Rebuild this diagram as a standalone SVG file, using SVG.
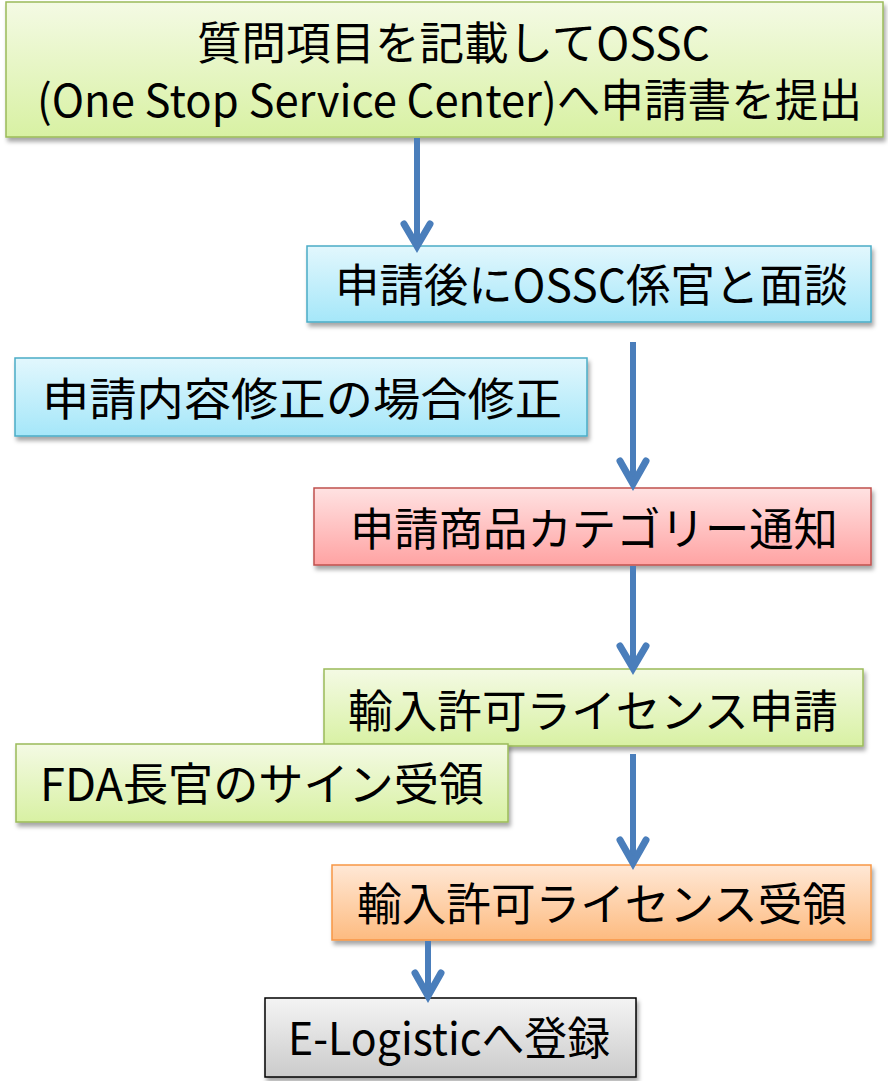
<svg xmlns="http://www.w3.org/2000/svg" width="888" height="1081" viewBox="0 0 888 1081">
  <style>
    .box { stroke-width: 1.5; filter: url(#shadow); }
    .green { fill: url(#gGreen); stroke: #9bbb59; }
    .blue { fill: url(#gBlue); stroke: #4bacc6; }
    .red { fill: url(#gRed); stroke: #c0504d; }
    .orange { fill: url(#gOrange); stroke: #f79646; }
    .gray { fill: url(#gGray); stroke: #000000; }
    .lbl { font-family: "Noto Sans CJK JP", "Noto Sans", sans-serif; font-size: 45px; fill: #000; }
    .shaft { stroke: #4a7ebb; stroke-width: 6; fill: none; }
    .head { stroke: #4a7ebb; stroke-width: 7; fill: none; stroke-linecap: round; stroke-linejoin: miter; }
  </style>
  <defs>
    <filter id="shadow" x="-5%" y="-10%" width="115%" height="130%">
      <feDropShadow dx="2" dy="4" stdDeviation="2" flood-color="#000" flood-opacity="0.35"/>
    </filter>
    <linearGradient id="gGreen" x1="0" y1="0" x2="0" y2="1">
      <stop offset="0" stop-color="#f4fae4"/>
      <stop offset="1" stop-color="#d8f1a3"/>
    </linearGradient>
    <linearGradient id="gBlue" x1="0" y1="0" x2="0" y2="1">
      <stop offset="0" stop-color="#e2f7fd"/>
      <stop offset="1" stop-color="#a5e7f9"/>
    </linearGradient>
    <linearGradient id="gRed" x1="0" y1="0" x2="0" y2="1">
      <stop offset="0" stop-color="#ffe2e2"/>
      <stop offset="1" stop-color="#ffa3a3"/>
    </linearGradient>
    <linearGradient id="gOrange" x1="0" y1="0" x2="0" y2="1">
      <stop offset="0" stop-color="#ffe8d6"/>
      <stop offset="1" stop-color="#fdbb80"/>
    </linearGradient>
    <linearGradient id="gGray" x1="0" y1="0" x2="0" y2="1">
      <stop offset="0" stop-color="#f4f4f4"/>
      <stop offset="1" stop-color="#cbcbcb"/>
    </linearGradient>
  </defs>

  <g id="node-submit">
    <rect class="box green" x="6" y="2" width="877" height="135"/>
    <text class="lbl"><tspan x="197" y="60" textLength="513" lengthAdjust="spacingAndGlyphs">質問項目を記載してOSSC</tspan><tspan x="37" y="117" textLength="825" lengthAdjust="spacingAndGlyphs">(One Stop Service Center)へ申請書を提出</tspan></text>
  </g>
  <g id="node-interview">
    <rect class="box blue" x="307" y="246" width="564" height="76"/>
    <text class="lbl" x="335" y="302" textLength="513" lengthAdjust="spacingAndGlyphs">申請後にOSSC係官と面談</text>
  </g>
  <g id="node-revise">
    <rect class="box blue" x="15" y="358" width="572" height="78"/>
    <text class="lbl" x="42" y="416" textLength="520" lengthAdjust="spacingAndGlyphs">申請内容修正の場合修正</text>
  </g>
  <g id="node-category">
    <rect class="box red" x="314" y="488" width="557" height="77"/>
    <text class="lbl" x="350" y="546" textLength="488" lengthAdjust="spacingAndGlyphs">申請商品カテゴリー通知</text>
  </g>
  <g id="node-license-apply">
    <rect class="box green" x="324" y="669" width="539" height="77"/>
    <text class="lbl" x="348" y="728" textLength="490" lengthAdjust="spacingAndGlyphs">輸入許可ライセンス申請</text>
  </g>
  <g id="node-fda-sign">
    <rect class="box green" x="16" y="744" width="492" height="78"/>
    <text class="lbl" x="40" y="801" textLength="444" lengthAdjust="spacingAndGlyphs">FDA長官のサイン受領</text>
  </g>
  <g id="node-license-receive">
    <rect class="box orange" x="332" y="865" width="539" height="75"/>
    <text class="lbl" x="357" y="921" textLength="490" lengthAdjust="spacingAndGlyphs">輸入許可ライセンス受領</text>
  </g>
  <g id="node-elogistic">
    <rect class="box gray" x="265" y="998" width="371" height="79"/>
    <text class="lbl" x="288" y="1055" textLength="322" lengthAdjust="spacingAndGlyphs">E-Logisticへ登録</text>
  </g>

  <g id="connectors">
    <line class="shaft" x1="417" y1="138" x2="417" y2="244"/>
    <polyline class="head" points="404,224 417,246 430,224"/>

    <line class="shaft" x1="633" y1="342" x2="633" y2="482"/>
    <polyline class="head" points="620,461 633,484 646,461"/>

    <line class="shaft" x1="633" y1="566" x2="633" y2="666"/>
    <polyline class="head" points="620,646 633,668 646,646"/>

    <line class="shaft" x1="633" y1="754" x2="633" y2="861"/>
    <polyline class="head" points="620,840 633,863 646,840"/>

    <line class="shaft" x1="428" y1="941" x2="428" y2="994"/>
    <polyline class="head" points="415,973 428,996 441,973"/>
  </g>
</svg>
